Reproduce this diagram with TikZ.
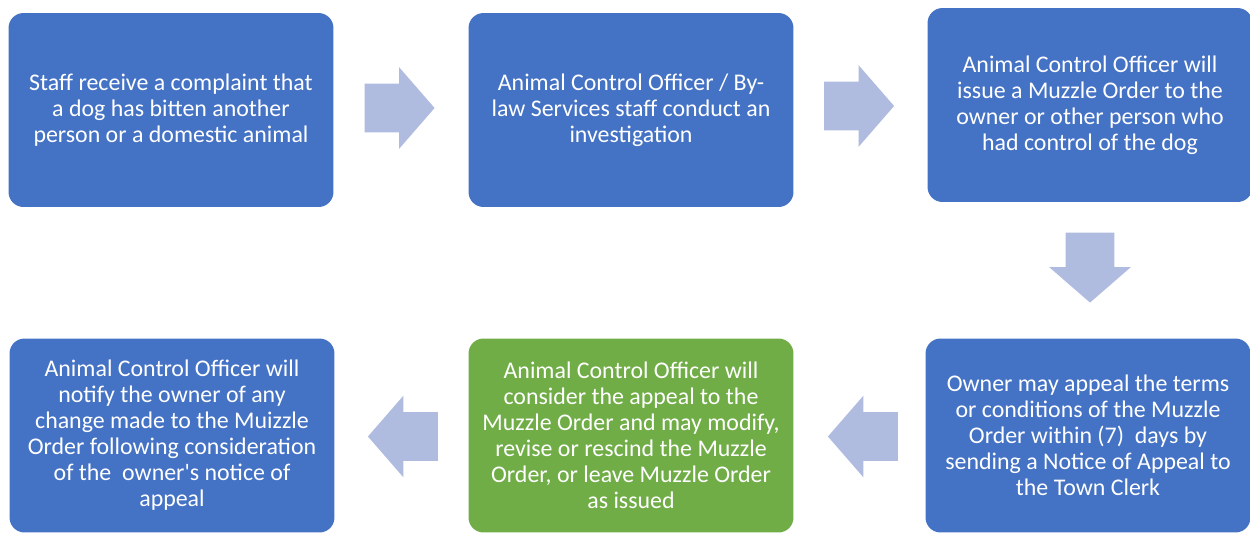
\documentclass[tikz,border=0pt]{standalone}
\usepackage{fontspec}
\setmainfont{Carlito}
\usepackage{xcolor}
\usepackage{tikz}
\usetikzlibrary{shapes.arrows}
\definecolor{stepblue}{HTML}{4472C4}
\definecolor{stepgreen}{HTML}{70AD47}
\definecolor{arrowfill}{HTML}{B0BCDF}

\begin{document}
\begin{tikzpicture}[x=0.02cm, y=-0.02cm]

% (coordinates are in pixels of the 1250 x 532 layout, y pointing down)
\tikzset{
  stepbox/.style={rounded corners=0.3cm, fill=stepblue, draw=none,
                  minimum width=6.5cm, minimum height=3.88cm, inner sep=0pt, align=center,
                  text=white, font=\fontsize{13.6}{14.8}\selectfont},
  greenbox/.style={stepbox, fill=stepgreen},
  blockarrow/.style={single arrow, fill=arrowfill, draw=none, minimum height=1.4cm,
                     inner xsep=0pt, inner ysep=0.48cm, single arrow head extend=0.33cm,
                     single arrow tip angle=98}}

\useasboundingbox (0,0) rectangle (1250,532);

% top row: complaint -> investigation -> muzzle order
\node[stepbox] (complaint) at (171,110) {Staff receive a complaint that\\a dog has bitten another\\person or a domestic animal};
\node[stepbox] (investig) at (631,110) {Animal Control Officer / By-\\law Services staff conduct an\\investigation};
\node[stepbox] (issue) at (1090,105) {Animal Control Officer will\\issue a Muzzle Order to the\\owner or other person who\\had control of the dog};

% bottom row: appeal -> consideration -> notification
\node[stepbox] (appeal) at (1088,435.5) {Owner may appeal the terms\\or conditions of the Muzzle\\Order within (7)\ \ days by\\sending a Notice of Appeal to\\the Town Clerk};
\node[greenbox] (consider) at (631,435.5) {Animal Control Officer will\\consider the appeal to the\\Muzzle Order and may modify,\\revise or rescind the Muzzle\\Order, or leave Muzzle Order\\as issued};
\node[stepbox] (notify) at (172,435.5) {Animal Control Officer will\\notify the owner of any\\change made to the Muizzle\\Order following consideration\\of the\ \ owner\textquotesingle s notice of\\appeal};

% block arrows between the steps (anchor sits mid-shaft, so shifted back)
\node[blockarrow] (arr1) at (389,108) {};
\node[blockarrow] (arr2) at (848.5,106) {};
\node[blockarrow, rotate=-90] (arr3) at (1090,257) {};
\node[blockarrow, rotate=180] (arr4) at (873.5,436.5) {};
\node[blockarrow, rotate=180] (arr5) at (413.5,436.5) {};

\end{tikzpicture}
\end{document}
